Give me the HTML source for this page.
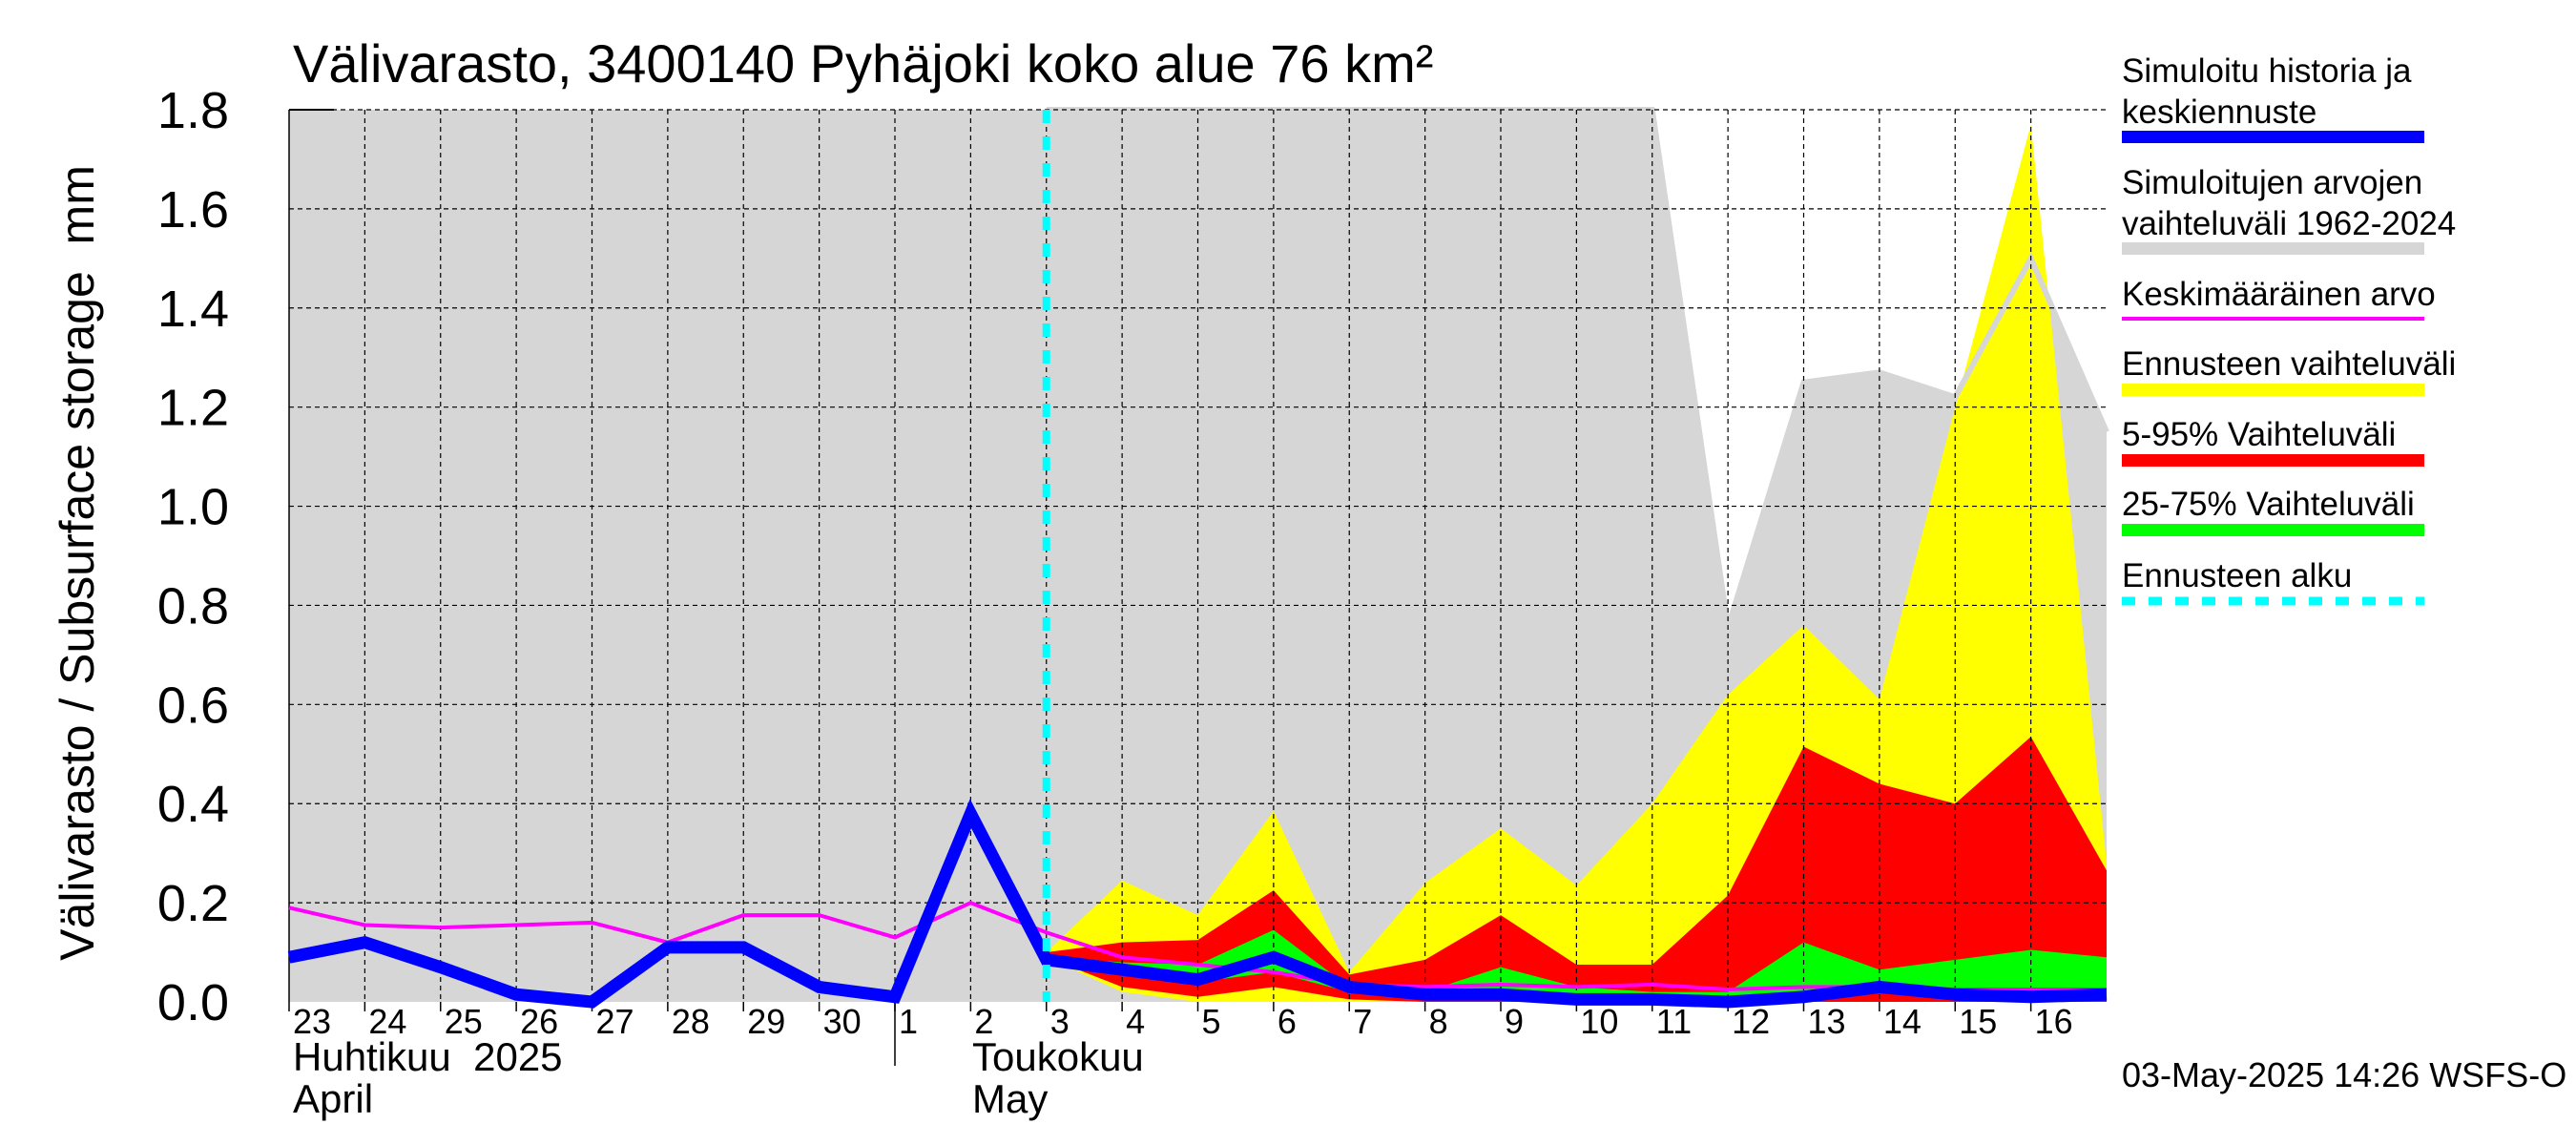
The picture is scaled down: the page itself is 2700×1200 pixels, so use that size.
<!DOCTYPE html>
<html><head><meta charset="utf-8"><style>
html,body{margin:0;padding:0;background:#fff;}
svg{display:block;font-family:"Liberation Sans",sans-serif;}
</style></head><body>
<svg id="chart" width="2700" height="1200" viewBox="0 0 2700 1200" xmlns="http://www.w3.org/2000/svg">
<text x="307" y="86" font-size="56">Välivarasto, 3400140 Pyhäjoki koko alue 76 km²</text>
<text transform="translate(98,590) rotate(-90)" text-anchor="middle" font-size="50">Välivarasto / Subsurface storage&#160; mm</text>
<g id="plot"></g>
<g id="legend" font-size="35">
<text x="2224" y="86">Simuloitu historia ja</text>
<text x="2224" y="129">keskiennuste</text>
<rect x="2224" y="137" width="317" height="13" fill="#0000ff"/>
<text x="2224" y="203">Simuloitujen arvojen</text>
<text x="2224" y="246">vaihteluväli 1962-2024</text>
<rect x="2224" y="254" width="317" height="13" fill="#d6d6d6"/>
<text x="2224" y="320">Keskimääräinen arvo</text>
<rect x="2224" y="332" width="317" height="4" fill="#ff00ff"/>
<text x="2224" y="393">Ennusteen vaihteluväli</text>
<rect x="2224" y="402" width="317" height="13" fill="#ffff00"/>
<text x="2224" y="467">5-95% Vaihteluväli</text>
<rect x="2224" y="476" width="317" height="13" fill="#ff0000"/>
<text x="2224" y="540">25-75% Vaihteluväli</text>
<rect x="2224" y="549" width="317" height="13" fill="#00ff00"/>
<text x="2224" y="615">Ennusteen alku</text>
<line x1="2224" y1="630" x2="2541" y2="630" stroke="#00ffff" stroke-width="9" stroke-dasharray="14 14"/>
</g>
<text x="2224" y="1139" font-size="36">03-May-2025 14:26 WSFS-O</text>
</svg>
<script>
const days=["23","24","25","26","27","28","29","30","1","2","3","4","5","6","7","8","9","10","11","12","13","14","15","16"];
const yTicks=[0,0.2,0.4,0.6,0.8,1.0,1.2,1.4,1.6,1.8];
const simulated=[0.09,0.12,0.07,0.015,0.0,0.11,0.11,0.03,0.01,0.38,0.085,0.065,0.045,0.09,0.03,0.015,0.015,0.005,0.005,0.0,0.01,0.03,0.015,0.01,0.015];
const meanVal=[0.19,0.155,0.15,0.155,0.16,0.12,0.175,0.175,0.13,0.2,0.14,0.09,0.075,0.06,0.035,0.03,0.035,0.03,0.035,0.025,0.03,0.03,0.025,0.025,0.025];
const histMax=[1.8,1.8,1.8,1.8,1.8,1.8,1.8,1.8,1.8,1.8,1.8,1.8,1.8,1.8,1.8,1.8,1.8,1.8,1.8,0.755,1.25,1.27,1.22,1.5,1.15];
const fcStart=10;
const yelMax=[0.1,0.245,0.175,0.385,0.06,0.24,0.35,0.235,0.4,0.62,0.76,0.61,1.2,1.77,0.28];
const yelMin=[0.09,0.02,0.0,0.0,0,0,0,0,0,0,0,0,0,0,0];
const redMax=[0.1,0.12,0.125,0.225,0.055,0.085,0.175,0.075,0.075,0.215,0.515,0.44,0.4,0.535,0.265];
const redMin=[0.09,0.03,0.01,0.03,0.005,0,0,0,0,0,0,0,0,0,0];
const grnMax=[0.09,0.08,0.075,0.145,0.03,0.02,0.07,0.03,0.02,0.02,0.12,0.065,0.085,0.105,0.09];
const grnMin=[0.085,0.06,0.04,0.06,0.02,0.01,0.01,0.005,0.005,0.005,0.01,0.02,0.01,0.01,0.01];

const NS="http://www.w3.org/2000/svg";
const L=303,R=2208,T=115,B=1050,N=24;
const x=i=>L+(R-L)*i/N;
const y=v=>B-(B-T)*v/1.8;
const g=document.getElementById('plot');
function mk(tag,attrs,parent){const e=document.createElementNS(NS,tag);for(const k in attrs)e.setAttribute(k,attrs[k]);(parent||g).appendChild(e);return e;}
mk('rect',{x:L,y:T,width:R-L,height:B-T,fill:'#fff'});
function band(hi,lo,off,fill,name){
  let pts=[];
  hi.forEach((v,i)=>pts.push(x(i+off)+','+y(v)));
  for(let i=lo.length-1;i>=0;i--)pts.push(x(i+off)+','+y(lo[i]));
  const p=mk('polygon',{points:pts.join(' '),fill:fill});
  
  
}
band(histMax,histMax.map(()=>0),0,'#d6d6d6','hist-range-band');
band(yelMax,yelMin,fcStart,'#ffff00','forecast-range-band');
band(redMax,redMin,fcStart,'#ff0000','band-5-95');
band(grnMax,grnMin,fcStart,'#00ff00','band-25-75');
// hist max edge visible over forecast band
const he=mk('polyline',{points:histMax.map((v,i)=>x(i)+','+y(v)).slice(fcStart).join(' '),fill:'none',stroke:'#d6d6d6','stroke-width':6});


// grid
for(let i=1;i<N;i++){const l=mk('line',{x1:x(i),y1:T,x2:x(i),y2:B,stroke:'#000','stroke-width':1.2,'stroke-dasharray':'5 4'});}
yTicks.forEach(v=>{
  if(v>0){const l=mk('line',{x1:L,y1:y(v),x2:R,y2:y(v),stroke:'#000','stroke-width':1.2,'stroke-dasharray':'5 4'});}
  const t=mk('text',{x:240,y:y(v)+19,'text-anchor':'end','font-size':54});t.textContent=v.toFixed(1);
  
});
mk('line',{x1:L,y1:T,x2:L,y2:B,stroke:'#000','stroke-width':1.5});
mk('line',{x1:L,y1:T,x2:350,y2:T,stroke:'#000','stroke-width':2});
days.forEach((d,i)=>{
  const t=mk('text',{x:x(i)+4,y:1083,'font-size':36});t.textContent=d;
  
  mk('line',{x1:x(i),y1:B,x2:x(i),y2:B+10,stroke:'#000','stroke-width':1.5});
});
mk('line',{x1:x(8),y1:B,x2:x(8),y2:1117,stroke:'#000','stroke-width':1.5});
[['Huhtikuu\u00a0 2025',307,1122],['April',307,1166],['Toukokuu',1019,1122],['May',1019,1166]].forEach(a=>{const t=mk('text',{x:a[1],y:a[2],'font-size':42});t.textContent=a[0];});
// lines
const mp=mk('polyline',{points:meanVal.map((v,i)=>x(i)+','+y(v)).join(' '),fill:'none',stroke:'#ff00ff','stroke-width':4});

const sp=mk('polyline',{points:simulated.map((v,i)=>x(i)+','+y(v)).join(' '),fill:'none',stroke:'#0000ff','stroke-width':13,'stroke-linejoin':'miter'});

const fl=mk('line',{x1:x(fcStart),y1:T,x2:x(fcStart),y2:B,stroke:'#00ffff','stroke-width':8,'stroke-dasharray':'14 14'});

</script>
</body></html>
